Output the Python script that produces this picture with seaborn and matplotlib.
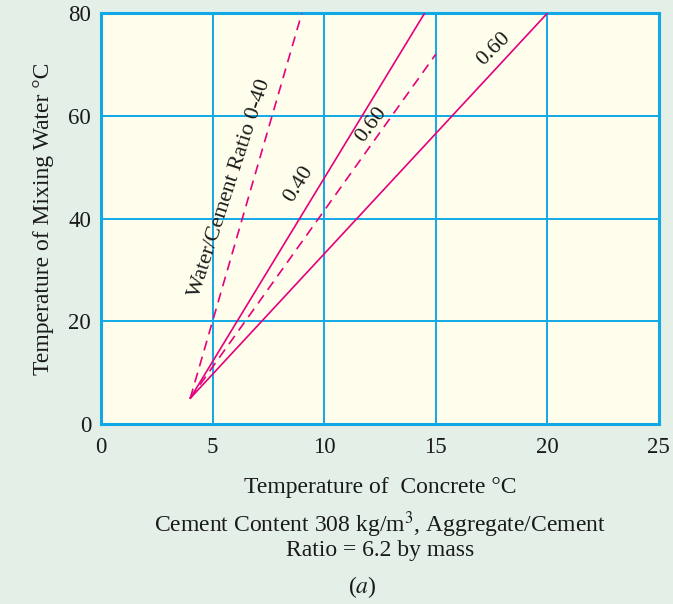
import matplotlib
matplotlib.use("Agg")
import matplotlib.pyplot as plt
import seaborn as sns
import pandas as pd

# Concrete temperature (x) vs required mixing-water temperature (y)
series_names = ["0.40 dashed", "0.40 solid", "0.60 dashed", "0.60 solid"]
concrete_temp = [[4, 9], [4, 14.5], [4, 15], [4, 20]]
water_temp = [[5, 80], [5, 80], [5, 72], [5, 80]]
series_dashed = [True, False, True, False]

x_ticks = [0, 5, 10, 15, 20, 25]
y_ticks = [0, 20, 40, 60, 80]

rows = []
for name, xs, ys in zip(series_names, concrete_temp, water_temp):
    for xv, yv in zip(xs, ys):
        rows.append({"series": name, "concrete": xv, "water": yv})
df = pd.DataFrame(rows)

sns.set_theme(style="white")
plt.rcParams["font.family"] = ["Liberation Serif", "DejaVu Serif"]
plt.rcParams["mathtext.fontset"] = "stix"

BG = "#e3efe7"
FACE = "#fffdeb"
GRID = "#10a8e6"
LINE = "#e6007e"
INK = "#1a1a1a"

fig = plt.figure(figsize=(6.73, 6.04), dpi=100, facecolor=BG)
ax = fig.add_axes([0.150, 0.298, 0.829, 0.680])
ax.set_facecolor(FACE)

for name, dashed in zip(series_names, series_dashed):
    sub = df[df["series"] == name]
    sns.lineplot(data=sub, x="concrete", y="water", ax=ax, color=LINE,
                 linewidth=1.2, linestyle=(0, (6, 4)) if dashed else "-",
                 legend=False, zorder=3)

ax.set_xlim(0, 25)
ax.set_ylim(0, 80)
ax.set_xticks(x_ticks)
ax.set_yticks(y_ticks)
ax.grid(True, color=GRID, linewidth=1.4, zorder=1)
ax.set_axisbelow(True)
for sp in ax.spines.values():
    sp.set_color(GRID)
    sp.set_linewidth(2.2)
ax.tick_params(axis="x", length=0, labelsize=16.5, colors=INK, pad=9)
ax.tick_params(axis="y", length=0, labelsize=16.5, colors=INK, pad=7)

ax.set_xlabel("Temperature of  Concrete \u00b0C", fontsize=17, color=INK, labelpad=14)
ax.set_ylabel("Temperature of Mixing Water \u00b0C", fontsize=17, color=INK, labelpad=10)

# curve labels
txt = dict(fontsize=16, color=INK, ha="center", va="center", rotation_mode="anchor")
ax.text(5.8, 46, "Water/Cement Ratio 0-40", rotation=72, **txt)
ax.text(8.85, 46.8, "0.40", rotation=58, **txt)
ax.text(12.1, 58.2, "0.60", rotation=53, **txt)
ax.text(17.6, 73, "0.60", rotation=45, **txt)

# caption
fig.text(0.565, 0.1134, "Cement Content 308 kg/m$^3$, Aggregate/Cement\nRatio = 6.2 by mass",
         ha="center", va="center", multialignment="center", linespacing=1.0,
         fontsize=17, color=INK)
fig.text(0.538, 0.028, "($a$)", ha="center", va="center", fontsize=17, color=INK)

fig.savefig("out.png", dpi=100, facecolor=BG)
